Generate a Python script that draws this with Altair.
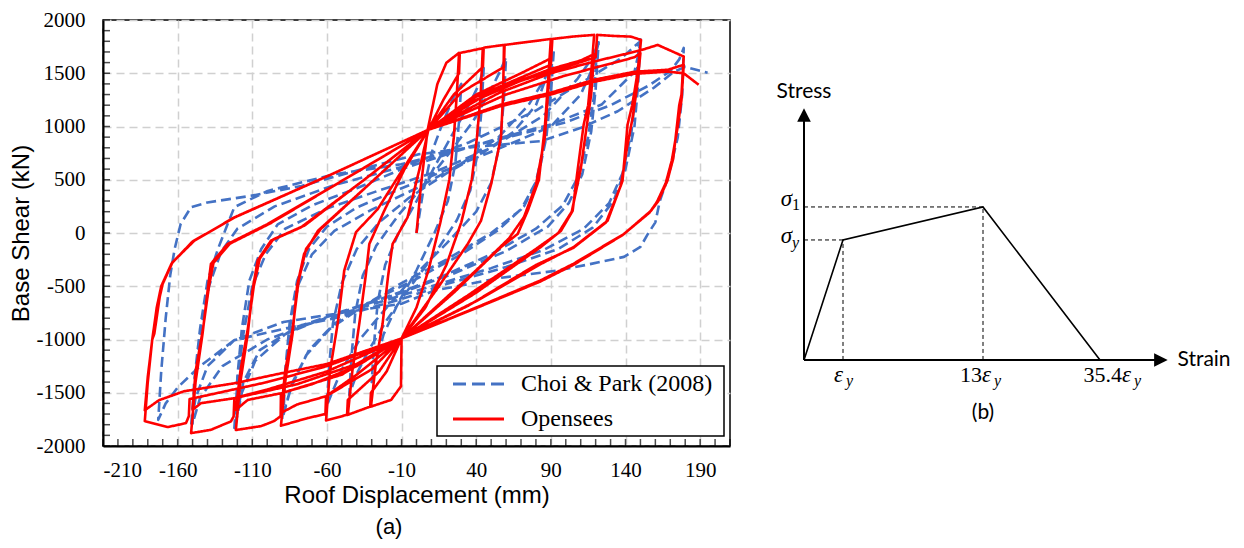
import altair as alt
import pandas as pd

# ---------------- Panel (a) data ----------------
x_ticks = [-210, -160, -110, -60, -10, 40, 90, 140, 190]
y_ticks = [-2000, -1500, -1000, -500, 0, 500, 1000, 1500, 2000]
series_names = ["Choi & Park (2008)", "Opensees"]
series_colors = ["#4472C4", "#FF0000"]

# Opensees hysteresis (roof displacement mm, base shear kN)
red_path = [
    (0, 0), (3, 450), (7.5, 972), (14, 1400), (20, 1598), (28.5, 1692),
    (27, 1300), (25, 900), (22, 500), (16, 100), (8, -350), (0, -700), (-10, -990),
    (-10.4, -1440), (-17, -1567), (-30.5, -1630),
    (-27, -1200), (-22.7, -850), (-19, -400), (-16, -103), (-6, 147), (2, 600), (8, 970),
    (18, 1250), (28.5, 1500), (29, 1690), (44.4, 1735),
    (43, 1300), (40.5, 900), (37, 500), (30, 100), (20, -300), (6, -700), (-10, -990),
    (-20, -1300), (-30.5, -1500), (-31, -1630), (-46, -1707),
    (-43, -1300), (-38.3, -850), (-34, -400), (-31.6, -103), (-21.6, 209), (-8, 600), (8, 970),
    (25, 1300), (44.5, 1560), (45, 1740), (58.6, 1766),
    (58, 1300), (56.6, 897), (50, 458), (43.2, 115), (34.3, -103), (15, -500), (-10, -990),
    (-25, -1300), (-46, -1567), (-46.5, -1707), (-60.6, -1760),
    (-58, -1300), (-52.8, -850), (-48.4, -352), (-40.5, 9), (-26, 224), (-10, 580), (8, 970),
    (30, 1320), (58.6, 1560), (59, 1766), (75, 1795), (90, 1822),
    (88, 1400), (86, 1000), (82, 500), (74.5, 208), (67.8, -9), (56.6, -131), (25, -560), (-10, -990),
    (-30, -1280), (-60.6, -1533), (-61, -1700), (-73, -1738), (-90.8, -1810),
    (-88, -1400), (-83, -944), (-80, -500), (-75.3, -196), (-66, 21), (-30, 480), (8, 970),
    (40, 1300), (70, 1500), (90, 1640),
    (88, 1300), (86, 900), (80, 450), (72, 150), (62, -50), (40, -350), (-10, -990),
    (-40, -1330), (-60.6, -1533), (-80, -1610), (-90.8, -1690),
    (-88, -1300), (-83, -900), (-79, -450), (-74, -150), (-64, 40), (-30, 480), (8, 970),
    (40, 1280), (70, 1460), (90, 1580), (91, 1822), (105, 1845), (119, 1860),
    (117, 1500), (115, 1200), (112, 1019), (108, 600), (104.6, 208), (96.8, 21), (83.4, -130), (40, -560), (-10, -990),
    (-40, -1250), (-70, -1420), (-90.8, -1505), (-91, -1720), (-95.4, -1766), (-104, -1813), (-121, -1850),
    (-118, -1400), (-113, -944), (-110, -550), (-106.4, -259), (-97.5, -72), (-77.4, 53), (-35, 500), (8, 970),
    (50, 1330), (90, 1540), (110, 1620), (119, 1680),
    (117, 1300), (114, 1000), (110, 600), (104, 200), (95, 0), (80, -150), (35, -580), (-10, -990),
    (-50, -1330), (-90.8, -1505), (-113, -1567), (-121, -1660),
    (-118, -1300), (-113, -900), (-109, -500), (-105, -240), (-96, -60), (-75, 70), (-35, 500), (8, 970),
    (40, 1250), (70, 1430), (100, 1560), (120, 1650), (121, 1860), (132.5, 1850), (143.7, 1844), (150.4, 1813),
    (148, 1500), (144.5, 1200), (141.4, 1019), (138, 489), (128, 115), (105.5, -130), (83.4, -290), (40, -640), (-10, -990),
    (-40, -1230), (-80, -1420), (-122, -1551), (-122.5, -1723), (-124.3, -1769), (-137.7, -1848), (-151, -1879),
    (-148, -1400), (-143.3, -944), (-140, -550), (-137.7, -290), (-126.5, -103), (-99.7, 84), (-45, 530), (8, 970),
    (60, 1300), (100, 1480), (130, 1590), (146, 1650), (150, 1690),
    (148, 1400), (145, 1100), (141, 800), (137, 450), (127, 100), (105, -140), (80, -300), (35, -680), (-10, -990),
    (-60, -1300), (-100, -1470), (-122, -1551), (-144.4, -1598), (-150, -1661),
    (-148, -1300), (-143, -900), (-139, -500), (-136, -280), (-125, -100), (-98, 90), (-45, 530), (8, 970),
    (56, 1320), (90, 1500), (119, 1610), (150, 1715), (161.6, 1766), (179, 1657),
    (177.5, 1300), (176, 1200), (172, 700), (168, 489), (162, 300), (157, 208), (139, -9), (105, -290), (83, -446), (40, -700), (-10, -990),
    (-60, -1250), (-100, -1400), (-152, -1560), (-152.5, -1720), (-154.4, -1785), (-166.5, -1822), (-182, -1766),
    (-180, -1400), (-177, -1000), (-175.6, -944), (-172, -600), (-170, -477), (-163.4, -274), (-148.8, -72), (-122, 147), (-57, 551), (8, 970),
    (56.6, 1206), (90, 1318), (119, 1439), (146, 1514), (168.5, 1533), (179, 1580),
    (177.5, 1250), (175, 1000), (171, 680), (167, 470), (161, 290), (156, 190), (138, -20), (105, -300), (83, -455), (40, -705), (-10, -990),
    (-60, -1230), (-90.8, -1318), (-122, -1411), (-155.7, -1486), (-172.5, -1570), (-182, -1664),
    (-180, -1350), (-177, -1000), (-174, -700), (-171, -500), (-164, -285), (-150, -80), (-122, 145), (-57, 550), (8, 970),
    (56, 1190), (90, 1300), (119, 1420), (146, 1495), (168, 1515), (179, 1500), (189, 1392),
]

# Choi & Park (2008) test hysteresis
blue_path = [
    (0, 0), (4, 350), (10, 750), (18, 1050), (25, 1280), (30, 1400),
    (28.5, 1050), (26, 650), (21, 300), (12, 0), (0, -350), (-12, -650), (-22, -950), (-27, -1200), (-30, -1400),
    (-28.5, -1050), (-26, -650), (-21, -300), (-12, 0), (0, 300), (12, 620), (25, 950), (35, 1200), (42, 1400), (45, 1550),
    (43.5, 1150), (41, 750), (36, 400), (27, 120), (12, -200), (-5, -520), (-20, -820), (-32, -1100), (-40, -1320), (-45, -1520),
    (-43.5, -1150), (-41, -750), (-36, -400), (-27, -120), (-12, 170), (5, 450), (22, 750), (38, 1050), (50, 1350), (56, 1520), (60, 1650),
    (58.5, 1250), (56, 850), (50, 470), (40, 200), (20, -100), (0, -380), (-20, -700), (-38, -1000), (-50, -1280), (-56, -1480), (-60, -1620),
    (-58.5, -1250), (-56, -850), (-50, -470), (-40, -150), (-25, 100), (-5, 330), (20, 560), (45, 760), (65, 950), (80, 1200), (88, 1500), (92, 1720),
    (90, 1300), (87, 900), (81, 500), (72, 250), (55, 30), (30, -200), (0, -430), (-30, -640), (-55, -850), (-72, -1100), (-83, -1400), (-90, -1750),
    (-88, -1350), (-85, -900), (-79, -480), (-70, -200), (-55, 20), (-30, 220), (0, 420), (30, 650), (55, 900), (75, 1200), (86, 1450), (91, 1650),
    (89, 1250), (86, 850), (80, 480), (70, 220), (50, 0), (20, -250), (-10, -470), (-35, -680), (-58, -900), (-74, -1150), (-84, -1450), (-89, -1680),
    (-88, -1300), (-85, -850), (-80, -450), (-72, -150), (-60, 60), (-40, 240), (-10, 420), (25, 620), (60, 820), (90, 1000), (110, 1300), (118, 1550), (122, 1790),
    (120, 1350), (117, 950), (111, 550), (102, 280), (88, 60), (60, -170), (25, -380), (-10, -560), (-45, -720), (-80, -880), (-105, -1100), (-116, -1400), (-122, -1830),
    (-120, -1400), (-116, -950), (-110, -500), (-101, -200), (-88, 40), (-60, 230), (-25, 400), (10, 560), (50, 800), (85, 1100), (108, 1450), (118, 1650), (121, 1760),
    (119, 1300), (115, 900), (108, 520), (98, 260), (80, 40), (50, -200), (15, -420), (-20, -600), (-55, -760), (-88, -950), (-108, -1200), (-117, -1500), (-121, -1780),
    (-120, -1350), (-117, -900), (-112, -450), (-104, -150), (-93, 80), (-70, 260), (-40, 420), (-10, 600), (25, 760), (57, 897), (90, 1019), (124, 1206), (146, 1514), (149, 1700), (150, 1832),
    (148.5, 1400), (146, 1000), (140, 600), (132, 300), (118, 50), (95, -150), (60, -320), (20, -480), (-10, -620), (-55, -800), (-89, -900), (-122, -1006), (-140, -1250), (-148, -1550), (-151, -1816),
    (-149, -1450), (-145, -950), (-139, -500), (-131, -180), (-120, 40), (-95, 250), (-55, 450), (-10, 620), (35, 850), (80, 1150), (115, 1450), (138, 1650), (149, 1790),
    (147, 1350), (144, 950), (138, 560), (129, 280), (112, 40), (85, -160), (50, -330), (10, -500), (-25, -650), (-65, -820), (-100, -1000), (-130, -1250), (-145, -1550), (-150, -1790),
    (-149, -1400), (-145, -900), (-140, -450), (-133, -150), (-126.5, 84), (-122, 243), (-99.7, 395), (-55, 551), (-10.4, 645), (30, 790), (70, 930), (100, 1040), (130, 1200), (155, 1380), (170, 1520), (176, 1630), (179, 1738),
    (178, 1300), (175, 897), (168.5, 523), (163, 300), (160, 100), (155, -9), (150, -131), (139, -224), (117, -290), (95, -352), (57, -420), (12, -540), (-10, -664), (-55, -760), (-89, -835), (-122, -1006), (-145, -1250), (-160, -1450), (-168, -1600), (-173, -1754),
    (-171, -1300), (-168, -800), (-165, -400), (-162, -150), (-158, 84), (-151, 243), (-140, 287), (-111, 349), (-77, 442), (-33, 614), (1, 738), (40, 810), (83.4, 863), (110.2, 988), (134.8, 1143), (159, 1364), (172.5, 1514), (180, 1560), (188, 1530), (195, 1505),
]

# ---------------- Panel (b) data ----------------
strain_pts = [0, 1, 13, 35.4]        # strain / eps_y
stress_pts = [0, 1.0, 1.275, 0]      # stress / sigma_y (schematic)

# ---------------- build panel (a) ----------------
rows = []
for name, path in zip(series_names, [blue_path, red_path]):
    for i, (d, s) in enumerate(path):
        rows.append({"disp": d, "shear": s, "series": name, "i": i})
df = pd.DataFrame(rows)

W_A, H_A = 627, 426
xs_a = alt.Scale(domain=[-210, 210], nice=False, zero=False)
ys_a = alt.Scale(domain=[-2000, 2000], nice=False, zero=False)
label_expr = "datum.value < 0 ? '-' + format(-datum.value, 'd') : format(datum.value, 'd')"

common_axis = dict(
    grid=True, gridDash=[8, 5], gridColor="#d0d0d0", gridWidth=1.5,
    ticks=False, tickSize=0, labelExpr=label_expr,
    labelFont="Liberation Serif", labelFontSize=21, labelColor="black",
    titleFont="Liberation Sans", titleFontSize=24, titleFontWeight="normal",
    titleColor="black", domainColor="black", domainWidth=2,
)

lines = alt.Chart(df).mark_line(strokeWidth=2.6, strokeJoin="round").encode(
    x=alt.X("disp:Q", scale=xs_a, axis=alt.Axis(
        values=x_ticks, title="Roof Displacement (mm)", labelPadding=13, titlePadding=3, **common_axis)),
    y=alt.Y("shear:Q", scale=ys_a, axis=alt.Axis(
        values=y_ticks, title="Base Shear (kN)", labelPadding=18, titlePadding=3, **common_axis)),
    color=alt.Color("series:N", scale=alt.Scale(domain=series_names, range=series_colors), legend=None),
    strokeDash=alt.StrokeDash("series:N", scale=alt.Scale(domain=series_names, range=[[10, 5], [1, 0]]), legend=None),
    order=alt.Order("i:Q"),
)

xminor = pd.DataFrame({"disp": list(range(-210, 211, 10))})
yminor = pd.DataFrame({"shear": list(range(-2000, 2001, 100))})
xt = alt.Chart(xminor).mark_tick(orient="vertical", size=7, thickness=1.5, color="black").encode(
    x=alt.X("disp:Q", scale=xs_a), y=alt.value(H_A - 3.5))
yt = alt.Chart(yminor).mark_tick(orient="horizontal", size=7, thickness=1.5, color="black").encode(
    y=alt.Y("shear:Q", scale=ys_a), x=alt.value(3.5))

# legend box (drawn in pixel space of the panel)
one = pd.DataFrame({"k": [0]})
leg_box = alt.Chart(one).mark_rect(fill="white", stroke="black", strokeWidth=1.5).encode(
    x=alt.value(334), x2=alt.value(621), y=alt.value(346), y2=alt.value(416))
leg_blue = alt.Chart(one).mark_rule(color=series_colors[0], strokeWidth=3, strokeDash=[13, 6]).encode(
    x=alt.value(350), x2=alt.value(401), y=alt.value(364))
leg_red = alt.Chart(one).mark_rule(color=series_colors[1], strokeWidth=3).encode(
    x=alt.value(350), x2=alt.value(401), y=alt.value(399))
leg_t1 = alt.Chart(one).mark_text(text=series_names[0], font="Liberation Serif", fontSize=24,
                                  align="left", baseline="middle", color="black").encode(
    x=alt.value(418), y=alt.value(364))
leg_t2 = alt.Chart(one).mark_text(text=series_names[1], font="Liberation Serif", fontSize=24,
                                  align="left", baseline="middle", color="black").encode(
    x=alt.value(418), y=alt.value(399))
label_a = alt.Chart(one).mark_text(text="(a)", font="Liberation Sans", fontSize=22, color="black").encode(
    x=alt.value(286), y=alt.value(507))

panel_a = alt.layer(lines, xt, yt, leg_box, leg_blue, leg_red, leg_t1, leg_t2, label_a).properties(
    width=W_A, height=H_A, view=alt.ViewBackground(stroke="black", strokeWidth=1.5))

# ---------------- build panel (b) ----------------
W_B, H_B = 460, 426
xs_b = alt.Scale(domain=[-5, 0, 1, 13, 35.4, 50], range=[0, 34, 73, 213, 330, 460], nice=False, zero=False)
ys_b = alt.Scale(domain=[-0.717, 2.833], nice=False, zero=False)
XB = lambda f="strain": alt.X(f + ":Q", scale=xs_b, axis=None)
YB = lambda f="stress": alt.Y(f + ":Q", scale=ys_b, axis=None)

curve_df = pd.DataFrame({"strain": strain_pts, "stress": stress_pts})
curve = alt.Chart(curve_df).mark_line(color="black", strokeWidth=1.6).encode(x=XB(), y=YB())

guide_df = pd.DataFrame({
    "strain": [0, 0, strain_pts[1], strain_pts[2]],
    "strain2": [strain_pts[1], strain_pts[2], strain_pts[1], strain_pts[2]],
    "stress": [stress_pts[1], stress_pts[2], 0, 0],
    "stress2": [stress_pts[1], stress_pts[2], stress_pts[1], stress_pts[2]],
})
guides = alt.Chart(guide_df).mark_rule(color="black", strokeWidth=1, strokeDash=[4, 3]).encode(
    x=XB(), x2="strain2:Q", y=YB(), y2="stress2:Q")

axes_df = pd.DataFrame({"strain": [0, 0], "strain2": [0, 41.6], "stress": [0, 0], "stress2": [2.0, 0]})
axes_b = alt.Chart(axes_df).mark_rule(color="black", strokeWidth=2).encode(
    x=XB(), x2="strain2:Q", y=YB(), y2="stress2:Q")

arr_up = alt.Chart(pd.DataFrame({"strain": [0], "stress": [2.041]})).mark_point(
    shape="M0,-1L1,1L-1,1Z", filled=True, size=185, color="black", opacity=1, strokeWidth=0).encode(x=XB(), y=YB())
arr_right = alt.Chart(pd.DataFrame({"strain": [42.24], "stress": [0]})).mark_point(
    shape="M1,0L-1,-1L-1,1Z", filled=True, size=185, color="black", opacity=1, strokeWidth=0).encode(x=XB(), y=YB())


def txt(x, y, s, dx=0, dy=0, size=21, font="Liberation Serif", style="normal",
        align="center", baseline="middle"):
    return alt.Chart(pd.DataFrame({"strain": [x], "stress": [y], "label": [s]})).mark_text(
        dx=dx, dy=dy, fontSize=size, font=font, fontStyle=style, align=align,
        baseline=baseline, color="black").encode(x=XB(), y=YB(), text="label:N")


texts = [
    txt(0, 2.229, "Stress", font="Lato", size=21),
    txt(44.1, 0, "Strain", font="Lato", size=21, align="left"),
    txt(13, -0.444, "(b)", font="Lato", size=21),
    # sigma labels
    txt(0, stress_pts[2], "σ", dx=-12, dy=-1, size=23, style="italic", align="right", baseline="alphabetic"),
    txt(0, stress_pts[2], "1", dx=-12, dy=3, size=16, align="left", baseline="alphabetic"),
    txt(0, stress_pts[1], "σ", dx=-12, dy=3, size=23, style="italic", align="right", baseline="alphabetic"),
    txt(0, stress_pts[1], "y", dx=-12, dy=8, size=16, style="italic", align="left", baseline="alphabetic"),
    # strain labels
    txt(strain_pts[1], 0, "ε", dx=-9, dy=22, size=23, style="italic", align="left", baseline="alphabetic"),
    txt(strain_pts[1], 0, "y", dx=3, dy=26, size=16, style="italic", align="left", baseline="alphabetic"),
    txt(strain_pts[2], 0, "13", dx=-1, dy=22, size=22, align="right", baseline="alphabetic"),
    txt(strain_pts[2], 0, "ε", dx=-1, dy=22, size=23, style="italic", align="left", baseline="alphabetic"),
    txt(strain_pts[2], 0, "y", dx=11, dy=26, size=16, style="italic", align="left", baseline="alphabetic"),
    txt(strain_pts[3], 0, "35.4", dx=22, dy=22, size=22, align="right", baseline="alphabetic"),
    txt(strain_pts[3], 0, "ε", dx=22, dy=22, size=23, style="italic", align="left", baseline="alphabetic"),
    txt(strain_pts[3], 0, "y", dx=34, dy=26, size=16, style="italic", align="left", baseline="alphabetic"),
]

panel_b = alt.layer(guides, curve, axes_b, arr_up, arr_right, *texts).properties(
    width=W_B, height=H_B)

chart = alt.hconcat(panel_a, panel_b, spacing=38).properties(
    padding={"left": 0, "top": 0, "right": 0, "bottom": 0},
    background="white",
).configure_view(stroke=None)

chart.save("out.html", embed_options={"renderer": "svg", "actions": False})
